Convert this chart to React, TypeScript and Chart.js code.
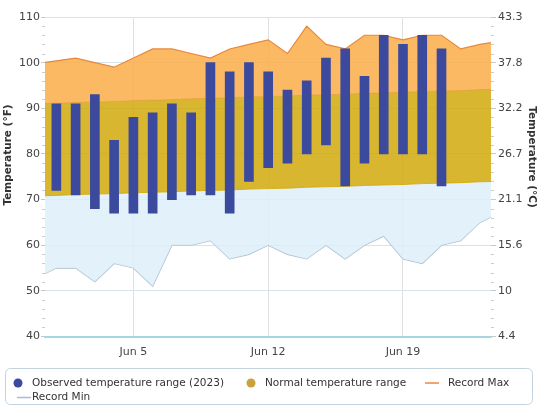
import React, { useEffect, useRef } from 'react';
import { Chart, registerables } from 'chart.js';

Chart.register(...registerables);

// ---- data ----
const barDays = [1, 2, 3, 4, 5, 6, 7, 8, 9, 10, 11, 12, 13, 14, 15, 16, 17, 18, 19, 20, 21];
const observedLow = [72, 71, 68, 67, 67, 67, 70, 71, 71, 67, 74, 77, 78, 80, 82, 73, 78, 80, 80, 80, 73];
const observedHigh = [91, 91, 93, 83, 88, 89, 91, 89, 100, 98, 100, 98, 94, 96, 101, 103, 97, 106, 104, 106, 103];

const lineDays = [0, 1, 2, 3, 4, 5, 6, 7, 8, 9, 10, 11, 12, 13, 14, 15, 16, 17, 18, 19, 20, 21, 22, 23, 24];
const recordMax = [99.8, 100.4, 101, 100, 99, 101, 103, 103, 102, 101, 103, 104, 105, 102, 108, 104, 103, 106, 106, 105, 106, 106, 103, 104, 104.7];
const recordMin = [52.9, 55, 55, 52, 56, 55, 51, 60, 60, 61, 57, 58, 60, 58, 57, 60, 57, 60, 62, 57, 56, 60, 61, 65, 67];
const normalHigh = [91.0, 91.1, 91.3, 91.4, 91.5, 91.7, 91.8, 91.9, 92.1, 92.2, 92.3, 92.5, 92.6, 92.7, 92.9, 93.0, 93.1, 93.3, 93.4, 93.5, 93.7, 93.8, 93.9, 94.1, 94.2];
const normalLow = [70.8, 70.9, 71.1, 71.2, 71.3, 71.5, 71.6, 71.7, 71.9, 72.0, 72.1, 72.3, 72.4, 72.5, 72.7, 72.8, 72.9, 73.1, 73.2, 73.3, 73.5, 73.6, 73.7, 73.9, 74.0];

const xTickDays = [5, 12, 19];
const xTickLabels = ['Jun 5', 'Jun 12', 'Jun 19'];
const fTicks = [40, 50, 60, 70, 80, 90, 100, 110];

const FONT = '"DejaVu Sans", sans-serif';
const C_BAR = '#3c4a9e';
const C_ORANGE = 'rgba(251, 173, 73, 0.85)';
const C_MAXLINE = '#e8883c';
const C_YELLOW = 'rgba(209, 169, 10, 0.85)';
const C_NORMLEG = '#c9a23c';
const C_BLUE = 'rgba(222, 238, 249, 0.85)';
const C_MINLINE = '#a9bdcc';

const toC = (f: number) => ((f - 32) * 5) / 9;

const decorPlugin = {
  id: 'decor',
  afterDraw(chart: any) {
    const { ctx, chartArea } = chart;
    const y = chart.scales.y;
    ctx.save();
    // minor ticks
    ctx.strokeStyle = '#cccccc';
    ctx.lineWidth = 1;
    for (let v = 42; v < 110; v += 2) {
      if (v % 10 === 0) continue;
      const py = Math.round(y.getPixelForValue(v)) + 0.5;
      ctx.beginPath();
      ctx.moveTo(chartArea.left - 3, py);
      ctx.lineTo(chartArea.left, py);
      ctx.moveTo(chartArea.right, py);
      ctx.lineTo(chartArea.right + 3, py);
      ctx.stroke();
    }
    // axis titles
    ctx.fillStyle = '#333333';
    ctx.font = 'bold 10.5px ' + FONT;
    ctx.textAlign = 'center';
    ctx.textBaseline = 'middle';
    ctx.save();
    ctx.translate(8, 155);
    ctx.rotate(-Math.PI / 2);
    ctx.fillText('Temperature (°F)', 0, 0);
    ctx.restore();
    ctx.save();
    ctx.translate(532, 157);
    ctx.rotate(Math.PI / 2);
    ctx.fillText('Temperature (°C)', 0, 0);
    ctx.restore();

    // legend box
    ctx.strokeStyle = '#c3d3dc';
    ctx.lineWidth = 1;
    ctx.beginPath();
    (ctx as any).roundRect(5.5, 368.5, 527, 36, 5);
    ctx.stroke();

    const ds = chart.data.datasets;
    ctx.font = '10.5px ' + FONT;
    ctx.textAlign = 'left';
    ctx.fillStyle = '#333333';
    const items = [
      { text: ds[0].label, kind: 'circle', color: C_BAR, cx: 18, tx: 32, y: 383 },
      { text: ds[2].label, kind: 'circle', color: C_NORMLEG, cx: 251, tx: 265, y: 383 },
      { text: ds[1].label, kind: 'line', color: C_MAXLINE, cx: 425, tx: 448, y: 383 },
      { text: ds[4].label, kind: 'line', color: C_MINLINE, cx: 17, tx: 32, y: 397.5 },
    ];
    items.forEach((it) => {
      if (it.kind === 'circle') {
        ctx.fillStyle = it.color;
        ctx.beginPath();
        ctx.arc(it.cx, it.y, 4.5, 0, Math.PI * 2);
        ctx.fill();
      } else {
        ctx.strokeStyle = it.color;
        ctx.lineWidth = 1.5;
        ctx.beginPath();
        ctx.moveTo(it.cx, it.y);
        ctx.lineTo(it.cx + 14, it.y);
        ctx.stroke();
      }
      ctx.fillStyle = '#333333';
      ctx.fillText(it.text, it.tx, it.y);
    });
    ctx.restore();
  },
};

export default function App() {
  const ref = useRef<HTMLCanvasElement | null>(null);
  useEffect(() => {
    if (!ref.current) return;
    const lineBase = {
      type: 'line' as const,
      pointRadius: 0,
      tension: 0,
      order: 1,
      yAxisID: 'y',
    };
    const chart = new Chart(ref.current, {
      type: 'bar',
      data: {
        datasets: [
          {
            type: 'bar',
            label: 'Observed temperature range (2023)',
            data: barDays.map((d, i) => ({ x: d, y: [observedLow[i], observedHigh[i]] })) as any,
            backgroundColor: C_BAR,
            borderWidth: 0,
            barThickness: 9,
            order: 0,
            yAxisID: 'y',
          },
          {
            ...lineBase,
            label: 'Record Max',
            data: lineDays.map((d, i) => ({ x: d, y: recordMax[i] })),
            borderColor: C_MAXLINE,
            borderWidth: 1.2,
            backgroundColor: C_ORANGE,
            fill: '+1',
          },
          {
            ...lineBase,
            label: 'Normal temperature range',
            data: lineDays.map((d, i) => ({ x: d, y: normalHigh[i] })),
            borderColor: '#d9a23a',
            borderWidth: 1,
            backgroundColor: C_YELLOW,
            fill: '+1',
          },
          {
            ...lineBase,
            label: 'Normal low',
            data: lineDays.map((d, i) => ({ x: d, y: normalLow[i] })),
            borderColor: '#d8b62c',
            borderWidth: 1,
            backgroundColor: C_BLUE,
            fill: '+1',
          },
          {
            ...lineBase,
            label: 'Record Min',
            data: lineDays.map((d, i) => ({ x: d, y: recordMin[i] })),
            borderColor: C_MINLINE,
            borderWidth: 1.2,
            fill: false,
          },
        ] as any,
      },
      options: {
        responsive: false,
        animation: false,
        events: [],
        layout: { padding: { top: 17, left: 0, right: 0, bottom: 0 } },
        plugins: {
          legend: { display: false },
          tooltip: { enabled: false },
          title: { display: false },
        },
        scales: {
          x: {
            type: 'linear',
            min: 0.41,
            max: 23.57,
            offset: false,
            afterBuildTicks: (axis: any) => {
              axis.ticks = xTickDays.map((v) => ({ value: v }));
            },
            afterFit: (scale: any) => {
              scale.height = 70.5;
            },
            ticks: {
              callback: (v: any) => xTickLabels[xTickDays.indexOf(Number(v))] ?? '',
              font: { family: FONT, size: 11 },
              color: '#444444',
              padding: 9,
              maxRotation: 0,
            },
            grid: { color: '#e0e0e0', drawTicks: false, offset: false },
            border: { display: true, color: '#a6d6df', width: 2 },
          },
          y: {
            position: 'left',
            min: 40,
            max: 110,
            afterBuildTicks: (axis: any) => {
              axis.ticks = fTicks.map((v) => ({ value: v }));
            },
            afterFit: (scale: any) => {
              scale.width = 45;
            },
            ticks: {
              font: { family: FONT, size: 11 },
              color: '#444444',
              padding: 1,
            },
            grid: { color: '#d6e4e9', tickLength: 4, tickColor: '#c8c8c8' },
            border: { display: false },
          },
          yC: {
            position: 'right',
            min: toC(40),
            max: toC(110),
            afterBuildTicks: (axis: any) => {
              axis.ticks = fTicks.map((v) => ({ value: toC(v) }));
            },
            afterFit: (scale: any) => {
              scale.width = 49;
            },
            ticks: {
              font: { family: FONT, size: 11 },
              color: '#444444',
              padding: 2,
              callback: (v: any) => String(Math.round(Number(v) * 10) / 10),
            },
            grid: { drawOnChartArea: false, tickLength: 5, tickColor: '#c8c8c8' },
            border: { display: false },
          },
        },
      } as any,
      plugins: [decorPlugin],
    });
    return () => chart.destroy();
  }, []);

  return (
    <div style={{ position: 'fixed', left: 0, top: 0, width: 540, height: 407, background: '#ffffff' }}>
      <canvas ref={ref} width={540} height={407} style={{ display: 'block' }} />
    </div>
  );
}
